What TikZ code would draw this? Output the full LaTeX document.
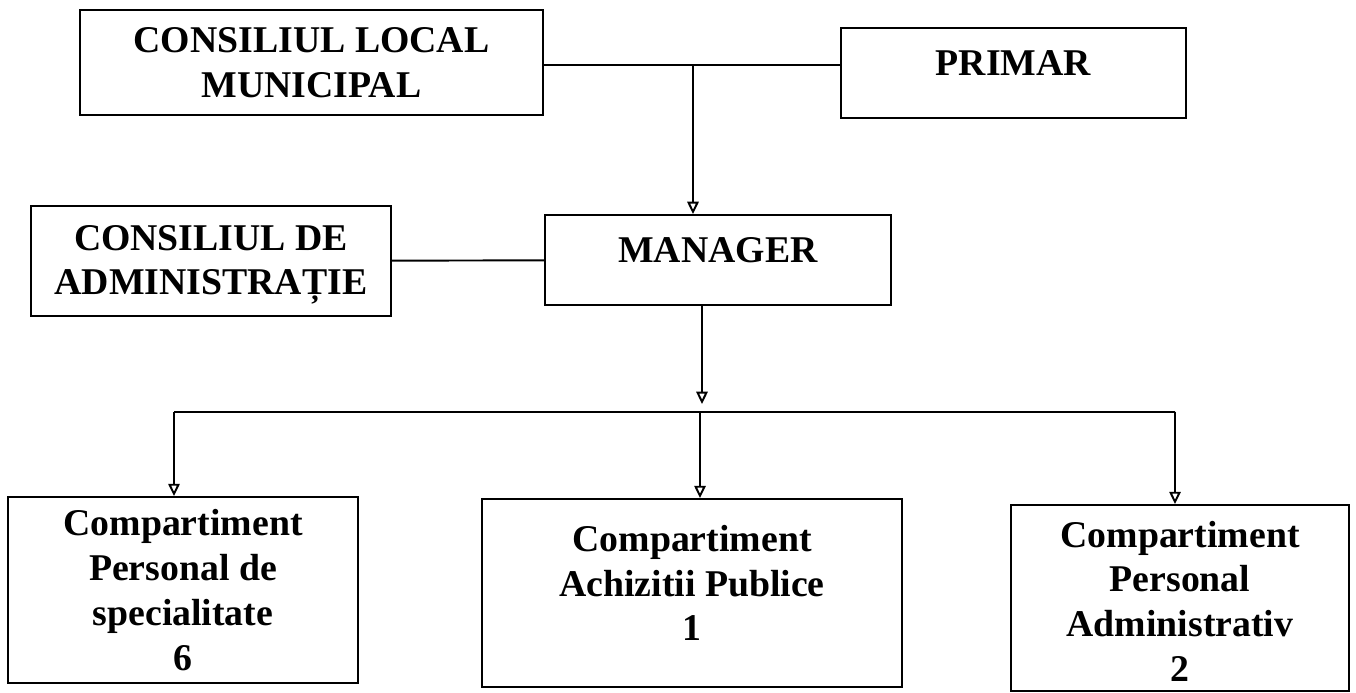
\documentclass[tikz,border=0pt]{standalone}
\usepackage{fontspec}
\setmainfont{Liberation Serif}
\usetikzlibrary{positioning,arrows.meta}

\begin{document}
\begin{tikzpicture}[x=0.02cm, y=-0.02cm,
      box/.style={draw, line width=1.1pt, align=center, inner sep=0pt,
                  font=\fontsize{21.5}{25.5}\selectfont\bfseries},
      link/.style={line width=1.1pt},
      down/.style={line width=1.1pt, -{Triangle[open, length=7pt, width=6.5pt]}}]
      \useasboundingbox (0, 0) rectangle (1356, 693);
      % top row
      \node [box, minimum width=9.26cm, minimum height=2.1cm] (clm) at (311.5, 62.5) {CONSILIUL LOCAL\\MUNICIPAL};
      \node [box, minimum width=6.9cm, minimum height=1.8cm, text depth=0.4cm] (primar) at (1013.5, 73) {PRIMAR};
      % middle row
      \node [box, minimum width=7.2cm, minimum height=2.2cm] (cda) at (211, 261) {\rule{0pt}{0.65cm}CONSILIUL DE\\ADMINISTRAȚIE};
      \node [box, minimum width=6.92cm, minimum height=1.8cm, text depth=0.4cm] (mgr) at (718, 260) {MANAGER};
      % compartments
      \node [box, minimum width=7cm, minimum height=3.72cm] (spec) at (183, 590) {Compartiment\\Personal de\\specialitate\\6};
      \node [box, minimum width=8.4cm, minimum height=3.76cm, text depth=0.4cm] (achiz) at (692, 593) {Compartiment\\Achizitii Publice\\1};
      \node [box, minimum width=6.76cm, minimum height=3.72cm] (adm) at (1180, 598) {\rule{0pt}{0.65cm}Compartiment\\Personal\\Administrativ\\2};
      \coordinate (top) at (693, 65);
      \coordinate (fork) at (702, 404);
      \coordinate (busl) at (174, 412);
      \coordinate (busm) at (700, 412);
      \coordinate (busr) at (1175, 412);
      \draw [link] (clm.east |- top) -- (primar.west |- top)
                   (cda) -- (mgr)
                   (busl) -- (busr);
      \draw [down] (top) -- (mgr.north -| top);
      \draw [down] (mgr.south -| fork) -- (fork);
      \draw [down] (busl) -- (spec.north -| busl);
      \draw [down] (busm) -- (achiz.north -| busm);
      \draw [down] (busr) -- (adm.north -| busr);
\end{tikzpicture}
\end{document}
